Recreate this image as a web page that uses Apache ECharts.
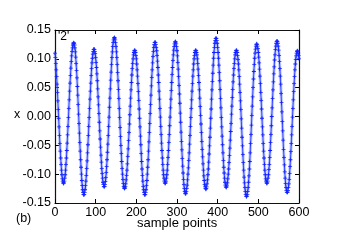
<!DOCTYPE html>
<html>
<head>
<meta charset="utf-8">
<script src="https://cdn.jsdelivr.net/npm/echarts@6/dist/echarts.min.js"></script>
<style>
html,body{margin:0;padding:0;background:#fff;}
#chart{width:350px;height:245px;}
</style>
</head>
<body>
<div id="chart"></div>
<script>
// Signal value x at each sample point (sample 0 .. 600)
const xValues = [
0.110,0.102,0.092,0.081,0.069,0.056,0.042,0.027,0.012,-0.003,-0.018,-0.033,-0.047,-0.060,-0.072,-0.083,-0.093,-0.101,-0.108,-0.112,-0.115,-0.116,
-0.115,-0.112,-0.107,-0.101,-0.093,-0.083,-0.072,-0.059,-0.046,-0.032,-0.017,-0.002,0.014,0.029,0.044,0.058,0.071,0.084,0.095,0.105,0.113,0.119,0.124,0.127,0.128,
0.127,0.124,0.119,0.112,0.103,0.092,0.080,0.067,0.052,0.037,0.021,0.004,-0.012,-0.029,-0.045,-0.060,-0.075,-0.088,-0.100,-0.111,-0.120,-0.127,-0.132,-0.135,-0.136,
-0.135,-0.132,-0.127,-0.120,-0.112,-0.102,-0.090,-0.077,-0.063,-0.049,-0.033,-0.017,-0.002,0.014,0.030,0.044,0.058,0.071,0.083,0.093,0.101,0.108,0.113,0.116,0.117,
0.116,0.113,0.109,0.102,0.094,0.085,0.074,0.062,0.048,0.034,0.020,0.005,-0.010,-0.025,-0.039,-0.053,-0.067,-0.079,-0.090,-0.099,-0.107,-0.114,-0.118,-0.121,-0.122,
-0.121,-0.118,-0.113,-0.106,-0.097,-0.087,-0.075,-0.062,-0.048,-0.033,-0.017,-0.001,0.016,0.032,0.048,0.063,0.077,0.090,0.102,0.112,0.121,0.128,0.133,0.136,0.137,
0.136,0.133,0.128,0.121,0.112,0.102,0.090,0.076,0.062,0.047,0.031,0.014,-0.002,-0.019,-0.035,-0.050,-0.064,-0.078,-0.090,-0.100,-0.109,-0.116,-0.121,-0.124,-0.125,
-0.124,-0.121,-0.117,-0.110,-0.102,-0.093,-0.082,-0.069,-0.056,-0.042,-0.028,-0.013,0.003,0.018,0.032,0.046,0.059,0.072,0.083,0.092,0.100,0.107,0.111,0.114,0.115,
0.114,0.111,0.106,0.100,0.091,0.081,0.070,0.057,0.043,0.028,0.013,-0.003,-0.018,-0.034,-0.049,-0.064,-0.078,-0.091,-0.102,-0.112,-0.121,-0.127,-0.132,-0.135,-0.136,
-0.135,-0.132,-0.127,-0.120,-0.111,-0.100,-0.088,-0.075,-0.060,-0.044,-0.028,-0.012,0.005,0.021,0.037,0.053,0.068,0.081,0.093,0.104,0.113,0.120,0.125,0.128,0.129,
0.128,0.125,0.120,0.114,0.106,0.096,0.085,0.072,0.059,0.044,0.030,0.014,-0.001,-0.017,-0.031,-0.046,-0.059,-0.072,-0.083,-0.093,-0.101,-0.107,-0.112,-0.115,-0.116,
-0.115,-0.112,-0.107,-0.101,-0.093,-0.083,-0.071,-0.059,-0.045,-0.031,-0.016,-0.001,0.015,0.030,0.045,0.059,0.073,0.085,0.097,0.107,0.115,0.121,0.126,0.129,0.130,
0.129,0.126,0.121,0.114,0.105,0.094,0.082,0.069,0.054,0.039,0.023,0.006,-0.010,-0.027,-0.043,-0.058,-0.073,-0.086,-0.098,-0.109,-0.118,-0.125,-0.130,-0.133,-0.134,
-0.133,-0.130,-0.125,-0.119,-0.110,-0.100,-0.089,-0.076,-0.063,-0.048,-0.033,-0.017,-0.002,0.014,0.029,0.044,0.057,0.070,0.081,0.091,0.100,0.106,0.111,0.114,0.115,
0.114,0.111,0.107,0.100,0.092,0.082,0.071,0.059,0.046,0.032,0.017,0.002,-0.013,-0.028,-0.043,-0.057,-0.070,-0.082,-0.093,-0.103,-0.111,-0.118,-0.122,-0.125,-0.126,
-0.125,-0.122,-0.117,-0.110,-0.101,-0.091,-0.079,-0.065,-0.051,-0.036,-0.020,-0.003,0.013,0.030,0.046,0.061,0.075,0.089,0.101,0.111,0.120,0.127,0.132,0.135,0.136,
0.135,0.132,0.127,0.120,0.111,0.101,0.089,0.076,0.062,0.047,0.031,0.015,-0.002,-0.018,-0.034,-0.049,-0.063,-0.076,-0.088,-0.098,-0.107,-0.114,-0.119,-0.122,-0.123,
-0.122,-0.119,-0.115,-0.108,-0.100,-0.091,-0.080,-0.068,-0.055,-0.041,-0.026,-0.012,0.004,0.018,0.033,0.047,0.060,0.072,0.083,0.092,0.100,0.107,0.111,0.114,0.115,
0.114,0.111,0.106,0.099,0.091,0.081,0.069,0.056,0.042,0.027,0.012,-0.004,-0.020,-0.036,-0.051,-0.066,-0.080,-0.093,-0.105,-0.115,-0.123,-0.130,-0.135,-0.138,-0.139,
-0.138,-0.135,-0.130,-0.123,-0.114,-0.103,-0.091,-0.078,-0.063,-0.047,-0.031,-0.015,0.002,0.018,0.034,0.050,0.065,0.078,0.090,0.101,0.110,0.117,0.122,0.125,0.126,
0.125,0.122,0.118,0.111,0.103,0.093,0.082,0.070,0.057,0.042,0.028,0.013,-0.003,-0.018,-0.032,-0.047,-0.060,-0.072,-0.083,-0.093,-0.101,-0.108,-0.112,-0.115,-0.116,
-0.115,-0.112,-0.107,-0.101,-0.092,-0.083,-0.071,-0.059,-0.045,-0.031,-0.016,0.000,0.015,0.031,0.046,0.060,0.074,0.086,0.098,0.107,0.116,0.122,0.127,0.130,0.131,
0.130,0.127,0.122,0.115,0.106,0.095,0.083,0.070,0.056,0.040,0.024,0.008,-0.009,-0.025,-0.041,-0.057,-0.071,-0.084,-0.096,-0.107,-0.116,-0.123,-0.128,-0.131,-0.132,
-0.131,-0.128,-0.123,-0.117,-0.109,-0.099,-0.087,-0.075,-0.061,-0.047,-0.032,-0.017,-0.001,0.014,0.029,0.043,0.057,0.069,0.081,0.091,0.099,0.105,0.110,0.113,0.114,
0.113,0.110,0.106,0.100
];
const xTicks = [0, 100, 200, 300, 400, 500, 600];
const yTicks = [-0.15, -0.10, -0.05, 0.00, 0.05, 0.10, 0.15];
const xAxisName = 'sample points';
const yAxisName = 'x';
const panelLabel = '(b)';
const seriesLabel = "'2'";

const pairs = xValues.map((v, i) => [i, v]);
const FONT = 'Liberation Sans';

const chart = echarts.init(document.getElementById('chart'), null, {renderer: 'canvas'});
const axisLine = {show: true, onZero: false, lineStyle: {color: '#111', width: 1.2}};
const tickIn = {show: true, inside: true, length: 4, lineStyle: {color: '#000'}};
chart.setOption({
  animation: false,
  backgroundColor: '#fff',
  grid: {left: 55, right: 51, top: 30, bottom: 42, containLabel: false},
  xAxis: [
    {type: 'value', position: 'bottom', min: xTicks[0], max: xTicks[xTicks.length - 1], interval: 100,
     axisLine: axisLine, axisTick: tickIn, splitLine: {show: false},
     axisLabel: {color: '#000', fontFamily: FONT, fontSize: 12.5, margin: 3}},
    {type: 'value', position: 'top', min: xTicks[0], max: xTicks[xTicks.length - 1], interval: 100,
     axisLine: axisLine, axisTick: tickIn, splitLine: {show: false}, axisLabel: {show: false}}
  ],
  yAxis: [
    {type: 'value', position: 'left', min: yTicks[0], max: yTicks[yTicks.length - 1], interval: 0.05,
     axisLine: axisLine, axisTick: tickIn, splitLine: {show: false},
     axisLabel: {color: '#000', fontFamily: FONT, fontSize: 12.5, margin: 4,
       formatter: v => v.toFixed(2)}},
    {type: 'value', position: 'right', min: yTicks[0], max: yTicks[yTicks.length - 1], interval: 0.05,
     axisLine: axisLine, axisTick: tickIn, splitLine: {show: false}, axisLabel: {show: false}}
  ],
  graphic: [
    {type: 'text', left: 137, top: 217, style: {text: xAxisName, font: '13px "Liberation Sans"', fill: '#000'}},
    {type: 'text', left: 14, top: 108, style: {text: yAxisName, font: '12.5px "Liberation Sans"', fill: '#000'}},
    {type: 'text', left: 16, top: 212, style: {text: panelLabel, font: '12.5px "Liberation Sans"', fill: '#000'}},
    {type: 'text', left: 58, top: 31, style: {text: seriesLabel, font: '12px "Liberation Sans"', fill: '#000'}, z: 10}
  ],
  series: [
    {type: 'line', data: pairs, xAxisIndex: 0, yAxisIndex: 0, showSymbol: false,
     lineStyle: {color: 'rgba(120,140,255,0.5)', width: 3}, silent: true, z: 2},
    {type: 'line', data: pairs, xAxisIndex: 0, yAxisIndex: 0, showAllSymbol: true,
     symbol: 'path://M4,0H6V4H10V6H6V10H4V6H0V4H4Z', symbolSize: 4,
     itemStyle: {color: '#1020ff'}, lineStyle: {color: '#1a2cff', width: 0.8}, z: 3}
  ]
});
</script>
</body>
</html>
